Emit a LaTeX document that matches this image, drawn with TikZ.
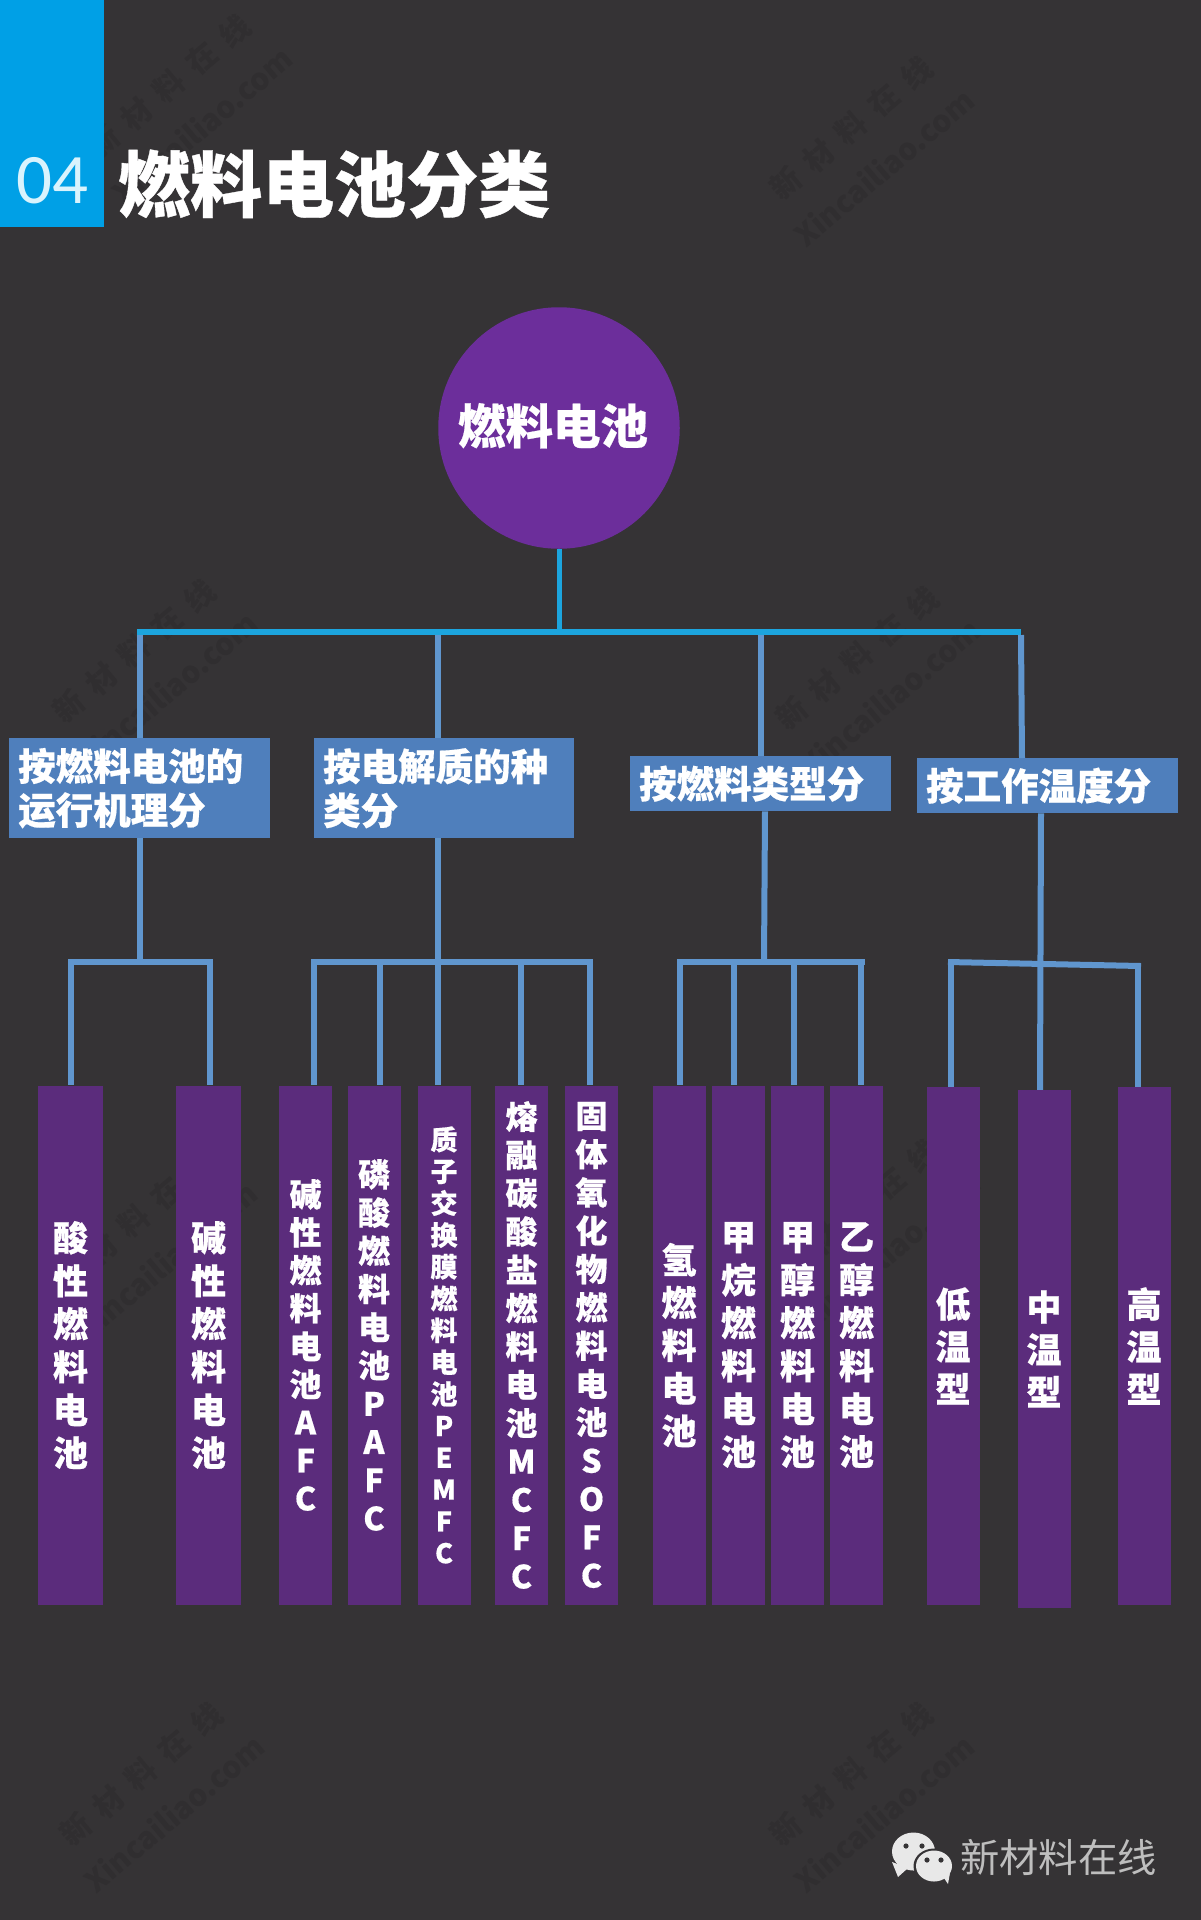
\documentclass[tikz,border=0pt]{standalone}
\usepackage{fontspec}
\setmainfont{Noto Sans CJK SC}
\newfontfamily\numberfont{Carlito}
\newcommand{\heavyfont}[2]{\bfseries\fontsize{#1}{#2}\selectfont\addfontfeature{FakeBold=0.5}}
\usetikzlibrary{positioning}
\definecolor{pagegray}{HTML}{353335}
\definecolor{tabblue}{HTML}{00A0E6}
\definecolor{buscyan}{HTML}{1CA5DE}
\definecolor{linkblue}{HTML}{6096CE}
\definecolor{groupblue}{HTML}{4F7FBC}
\definecolor{rootpurple}{HTML}{6C2E9B}
\definecolor{leafpurple}{HTML}{5B2C7C}
\definecolor{markgray}{HTML}{BEBEBE}
\definecolor{logogray}{HTML}{E8E8E8}
\definecolor{stampgray}{HTML}{302E30}

\begin{document}
\begin{tikzpicture}[
    x=1pt, y=-1pt,
    group/.style={
        fill=groupblue,
        text=white,
        align=left,
        anchor=north west,
        inner xsep=9pt,
        inner ysep=0pt,
        font=\heavyfont{37.5}{44}
    },
    leaf/.style 2 args={
        fill=leafpurple,
        text=white,
        align=center,
        inner sep=0pt,
        minimum width=53pt,
        minimum height=519pt,
        font=\heavyfont{#1}{#2}
    },
    stamp/.style={
        text=stampgray,
        rotate=40,
        align=center,
        font=\bfseries\fontsize{30}{52}\selectfont
    },
    bus/.style={draw=buscyan, line width=6.5pt},
    stem/.style={draw=buscyan, line width=5pt},
    link/.style={draw=linkblue, line width=6pt}
]

\useasboundingbox (0,0) rectangle (1200,1920);
\fill[pagegray] (-5,-5) rectangle (1205,1925);

\foreach \stampx/\stampy/\stampname in {185/105/stampa, 867/147/stampb, 150/670/stampc, 873/677/stampd, 150/1240/stampe, 873/1230/stampf, 157/1793/stampg, 867/1793/stamph}
    \node[stamp] (\stampname) at (\stampx,\stampy) {\addfontfeature{LetterSpace=43}新材料在线\\\addfontfeature{LetterSpace=0}Xincailiao.com};

\node[fill=tabblue, anchor=north west, minimum width=104pt, minimum height=227pt] (tab) at (0,0) {};
\node[text=white!85!cyan, font=\numberfont\fontsize{71}{71}\selectfont] (number) at (52,181) {04};
\node[text=white, anchor=west, inner sep=0pt, font=\heavyfont{72}{72}] (title) at (118,184) {燃料电池分类};

\node[circle, fill=rootpurple, minimum size=241.5pt, inner sep=0pt, text=white, font=\heavyfont{47.5}{47.5}] (root) at (559,428) {\hspace*{-12pt}\raisebox{9pt}{燃料电池}};

\node[group, minimum height=100pt, text width=243pt] (mechanism) at (9,738) {按燃料电池的\\运行机理分};
\node[group, minimum height=100pt, text width=242pt] (electrolyte) at (314,738) {按电解质的种\\类分};
\node[group, minimum height=55pt, text width=243pt] (fueltype) at (630,756) {按燃料类型分};
\node[group, minimum height=55pt, text width=243pt] (temperature) at (917,758) {按工作温度分};

\node[leaf={35}{43}, minimum width=65pt] (acid) at (70.5,1345) {酸\\性\\燃\\料\\电\\池};
\node[leaf={35}{43}, minimum width=65pt] (alkaline) at (208.5,1345) {碱\\性\\燃\\料\\电\\池};
\node[leaf={32}{38}] (afc) at (305.5,1345) {碱\\性\\燃\\料\\电\\池\\A\\F\\C};
\node[leaf={32}{38.2}] (pafc) at (374,1345) {磷\\酸\\燃\\料\\电\\池\\P\\A\\F\\C};
\node[leaf={27}{31.8}] (pemfc) at (444,1345) {质\\子\\交\\换\\膜\\燃\\料\\电\\池\\P\\E\\M\\F\\C};
\node[leaf={32}{38.3}] (mcfc) at (521.5,1345) {熔\\融\\碳\\酸\\盐\\燃\\料\\电\\池\\M\\C\\F\\C};
\node[leaf={32}{38.3}] (sofc) at (591.5,1345) {固\\体\\氧\\化\\物\\燃\\料\\电\\池\\S\\O\\F\\C};
\node[leaf={35}{42.8}] (hydrogen) at (679,1345) {氢\\燃\\料\\电\\池};
\node[leaf={35}{43}] (methane) at (738.5,1345) {甲\\烷\\燃\\料\\电\\池};
\node[leaf={35}{43}] (methanol) at (797.5,1345) {甲\\醇\\燃\\料\\电\\池};
\node[leaf={35}{43}] (ethanol) at (856.5,1345) {乙\\醇\\燃\\料\\电\\池};
\node[leaf={35}{42.5}, minimum height=518pt] (lowtemp) at (953,1346) {低\\温\\型};
\node[leaf={35}{42.5}, minimum height=518pt] (midtemp) at (1044,1349) {中\\温\\型};
\node[leaf={35}{42.5}, minimum height=518pt] (hightemp) at (1144,1346) {高\\温\\型};

\coordinate (busleft) at (137,632);
\coordinate (busright) at (1021,632);
\draw[stem] (root.south) -- (root.south |- busleft);
\draw[bus] (busleft) -- (busright);
\draw[link] (140,635) -- (140,0 |- mechanism.north);
\draw[link] (438,635) -- (438,0 |- electrolyte.north);
\draw[link] (761,635) -- (761,0 |- fueltype.north);
\draw[link] (1021,635) -- (1022,0 |- temperature.north);

\coordinate (mechbar) at (140,962);
\coordinate (elecbar) at (438,962);
\coordinate (fuelbar) at (764,962);
\coordinate (templeft) at (951,962);
\coordinate (tempright) at (1138,966);
\draw[link] (140,0 |- mechanism.south) -- (mechbar);
\draw[link] (438,0 |- electrolyte.south) -- (elecbar);
\draw[link] (765,0 |- fueltype.south) -- (fuelbar);
\draw[link] (1041,0 |- temperature.south) -- (1040,0 |- midtemp.north);
\draw[link] (68,962) -- (213,962);
\draw[link] (311,962) -- (593,962);
\draw[link] (677,962) -- (865,962);
\draw[link] (948,962) -- (1141,966);

\foreach \dropx/\leafname in {71/acid, 210/alkaline, 314/afc, 380/pafc, 438/pemfc, 521/mcfc, 590/sofc, 680/hydrogen, 734/methane, 794/methanol, 861/ethanol}
    \draw[link] (\dropx,962) -- (\dropx,0 |- \leafname.north);
\draw[link] (templeft) -- (951,0 |- lowtemp.north);
\draw[link] (tempright) -- (1138,0 |- hightemp.north);

\fill[logogray] (892,1877-15) -- (898,1877) -- (908,1868) -- cycle;
\fill[logogray] (913.5,1851.5) ellipse [x radius=21.5pt, y radius=19pt];
\fill[pagegray] (934,1866) ellipse [x radius=20.5pt, y radius=17.5pt];
\fill[logogray] (944,1878) -- (948,1884) -- (950,1873) -- cycle;
\fill[logogray] (934,1866) ellipse [x radius=18pt, y radius=15.5pt];
\foreach \eyex/\eyey in {906/1846, 922/1846, 927/1860, 941/1860}
    \fill[pagegray] (\eyex,\eyey) circle (2.6pt);
\node[text=markgray, anchor=west, inner sep=0pt, font=\fontsize{39.3}{39.3}\selectfont] (account) at (960,1857) {新材料在线};

\end{tikzpicture}
\end{document}
